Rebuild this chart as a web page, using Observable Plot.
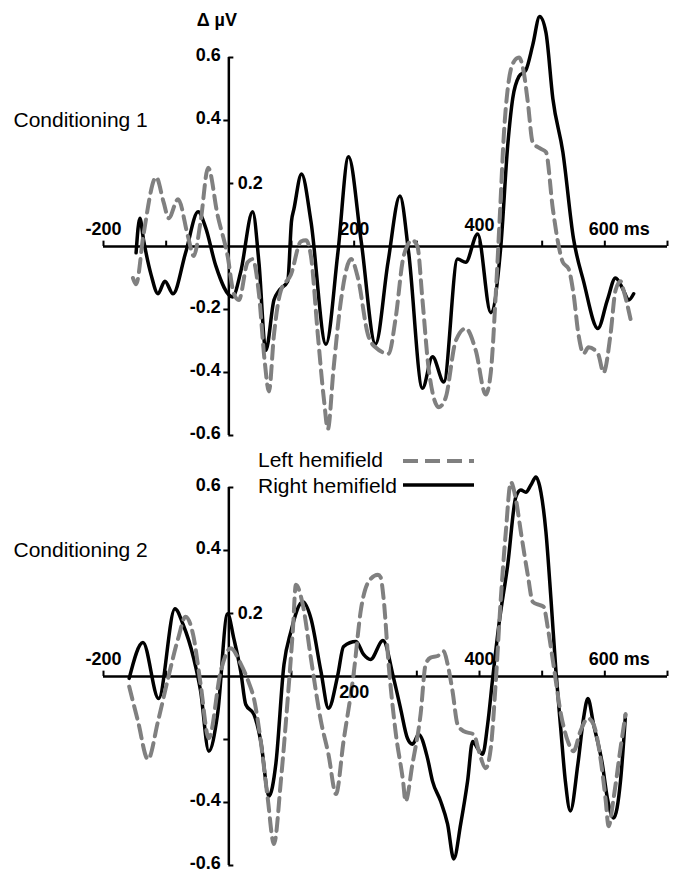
<!DOCTYPE html>
<html>
<head>
<meta charset="utf-8">
<script src="https://cdn.jsdelivr.net/npm/d3@7"></script>
<script src="https://cdn.jsdelivr.net/npm/@observablehq/plot@0.6"></script>
<style>
  html, body { margin: 0; padding: 0; background: #fff; }
  #wrap { position: relative; width: 673px; height: 872px; font-family: "Liberation Sans", Arial, sans-serif; }
  #wrap svg { display: block; }
  #legend { position: absolute; left: 0; top: 0; width: 673px; height: 872px; pointer-events: none; }
</style>
</head>
<body>
<div id="wrap"></div>
<script>
// ---------- DATA ----------
const unitLabel = "Δ µV";
const seriesNames = ["Left hemifield", "Right hemifield"];
const panelTitles = ["Conditioning 1", "Conditioning 2"];

// Conditioning 1 — Right hemifield (solid black)
const c1RightT = [-148,-142,-136,-124,-113,-102,-89,-69,-49,-37,-21,6,19,38,48,59,72,80,94,100,104,116,131,155,174,191,211,234,254,273,287,309,325,343,365,378,397,418,434,445,453,463,474,485,496,506,517,533,550,566,589,604,617,630,638,646];
const c1RightV = [-0.02,0.09,0.02,-0.09,-0.15,-0.11,-0.15,-0.02,0.11,0.06,-0.06,-0.16,-0.08,0.11,-0.05,-0.33,-0.17,-0.14,-0.11,0.08,0.12,0.23,0.08,-0.31,-0.02,0.285,0.02,-0.31,-0.05,0.16,-0.02,-0.45,-0.35,-0.43,-0.04,-0.05,0.04,-0.21,0.0,0.32,0.47,0.54,0.56,0.64,0.73,0.68,0.47,0.30,0.025,-0.11,-0.26,-0.17,-0.10,-0.14,-0.17,-0.15];

// Conditioning 1 — Left hemifield (dashed grey)
const c1LeftT = [-153,-148,-136,-116,-104,-96,-81,-65,-56,-45,-33,-18,-2,8,16,30,38,48,57,64,72,83,99,115,123,131,142,152,158,167,179,195,206,222,234,255,266,279,293,301,309,319,335,346,362,378,394,410,418,426,433,439,445,453,463,470,477,485,498,506,517,525,533,542,550,558,566,574,589,598,609,617,625,630,641];
const c1LeftV = [-0.10,-0.12,0.04,0.22,0.14,0.09,0.15,0.03,-0.03,0.08,0.25,0.10,-0.03,-0.15,-0.17,-0.05,-0.04,-0.15,-0.36,-0.46,-0.28,-0.14,-0.09,0.016,0.02,-0.03,-0.28,-0.49,-0.58,-0.39,-0.17,-0.04,-0.10,-0.28,-0.32,-0.34,-0.23,-0.03,0.02,0.0,-0.17,-0.39,-0.51,-0.48,-0.30,-0.26,-0.33,-0.47,-0.40,-0.15,0.12,0.36,0.50,0.58,0.60,0.56,0.46,0.33,0.31,0.30,0.12,0.016,-0.05,-0.07,-0.15,-0.28,-0.34,-0.32,-0.34,-0.40,-0.28,-0.14,-0.11,-0.14,-0.23];

// Conditioning 2 — Right hemifield (solid black)
const c2RightT = [-159,-137,-112,-86,-73,-56,-45,-32,-18,-2,8,19,27,40,51,64,75,88,99,118,131,147,159,174,183,203,215,226,246,263,274,285,293,303,317,325,338,349,359,370,381,389,397,405,413,421,431,445,458,466,474,482,490,498,506,514,522,530,537,545,557,566,573,582,596,604,614,625,633];
const c2RightV = [-0.006,0.108,-0.07,0.215,0.165,0.057,-0.047,-0.237,-0.12,0.199,0.12,0.016,-0.089,-0.12,-0.206,-0.38,-0.278,0.038,0.142,0.237,0.184,0.016,-0.101,0.006,0.095,0.111,0.07,0.054,0.114,-0.006,-0.101,-0.196,-0.215,-0.184,-0.259,-0.332,-0.396,-0.468,-0.579,-0.468,-0.332,-0.206,-0.228,-0.247,-0.152,-0.006,0.165,0.354,0.57,0.592,0.585,0.608,0.633,0.585,0.459,0.247,0.016,-0.174,-0.332,-0.427,-0.278,-0.133,-0.07,-0.152,-0.278,-0.386,-0.449,-0.332,-0.12];

// Conditioning 2 — Left hemifield (dashed grey)
const c2LeftT = [-159,-145,-129,-113,-97,-81,-69,-57,-45,-32,-13,3,19,32,40,51,62,72,83,94,102,107,118,131,147,159,171,183,199,211,223,238,242,247,255,266,278,282,293,306,314,322,333,343,349,357,365,375,391,399,410,418,426,434,442,450,458,466,477,485,494,502,510,518,530,541,550,561,573,582,593,601,606,614,625,633];
const c2LeftV = [-0.032,-0.142,-0.263,-0.142,-0.006,0.12,0.19,0.133,-0.025,-0.196,0.016,0.09,0.04,-0.02,-0.07,-0.206,-0.386,-0.532,-0.332,-0.07,0.142,0.291,0.228,0.057,-0.142,-0.247,-0.373,-0.206,0.006,0.215,0.301,0.323,0.316,0.247,0.038,-0.174,-0.332,-0.396,-0.278,-0.12,0.038,0.06,0.065,0.08,0.04,-0.047,-0.152,-0.174,-0.184,-0.237,-0.291,-0.228,-0.016,0.247,0.459,0.617,0.563,0.459,0.323,0.237,0.228,0.222,0.142,0.038,-0.12,-0.206,-0.237,-0.174,-0.133,-0.152,-0.259,-0.386,-0.475,-0.386,-0.228,-0.12];

// Axis ticks and labels
const xDomain = [-200, 700];
const yDomain = [-0.6, 0.6];
const xTickValues = [-200, -100, 100, 200, 300, 400, 500, 600, 700];
const yTicksLeftSide = [0.4, -0.2, -0.4];
const yTicksRightSide = [0.6, 0.2, -0.6];
const c1YLabelsLeft = [0.6, 0.4, -0.2, -0.4, -0.6];
const c2YLabelsLeft = [0.6, 0.4, -0.4, -0.6];
const yLabelsRight = [0.2];
const c1XLabelsAbove = [-200, 200];
const c1XLabelsAboveHigh = [400];
const c1XLabelsBelow = [];
const c2XLabelsAbove = [-200, 400];
const c2XLabelsAboveHigh = [];
const c2XLabelsBelow = [200];
const xUnitLabel = [600];
const xUnit = "ms";

// ---------- BUILD ----------
const toRows = (T, V) => T.map((t, i) => ({t, v: V[i]}));
const FONT = "Liberation Sans, Arial, Helvetica, sans-serif";
const GREY = "#808080";

function panel(o) {
  const tickStroke = 2;
  const lbl = {fontWeight: "bold", fontSize: 18, fill: "#000", fontFamily: FONT};
  return Plot.plot({
    width: 673,
    height: o.height,
    marginLeft: 103,
    marginRight: 6,
    marginTop: o.marginTop,
    marginBottom: o.marginBottom,
    x: {domain: xDomain, axis: null},
    y: {domain: yDomain, axis: null},
    style: {fontFamily: FONT, overflow: "visible", background: "transparent"},
    marks: [
      Plot.ruleY([0], {x1: xDomain[0], x2: xDomain[1], stroke: "#000", strokeWidth: 2.5}),
      Plot.ruleX([0], {y1: yDomain[0], y2: yDomain[1], stroke: "#000", strokeWidth: 2.5}),
      Plot.ruleX(xTickValues, {x: d => d, y1: 0, y2: 0.017, stroke: "#000", strokeWidth: tickStroke}),
      Plot.ruleY(yTicksLeftSide, {y: d => d, x1: -8, x2: 0, stroke: "#000", strokeWidth: tickStroke}),
      Plot.ruleY(yTicksRightSide, {y: d => d, x1: 0, x2: 8, stroke: "#000", strokeWidth: tickStroke}),
      Plot.line(o.right, {x: "t", y: "v", stroke: "#000", strokeWidth: 3.5, curve: "monotone-x", strokeLinejoin: "round"}),
      Plot.line(o.left, {x: "t", y: "v", stroke: GREY, strokeWidth: 4, strokeDasharray: "13,7", curve: "monotone-x"}),
      Plot.text(o.yLeft, {x: 0, y: d => d, text: d => String(d), textAnchor: "end", dx: -8, dy: -2, ...lbl}),
      Plot.text(yLabelsRight, {x: 0, y: d => d, text: d => String(d), textAnchor: "start", dx: 9, ...lbl}),
      Plot.text(o.xAbove, {x: d => d, y: 0, text: d => String(d), textAnchor: "middle", dy: -17, ...lbl}),
      Plot.text(o.xAboveHigh, {x: d => d, y: 0, text: d => String(d), textAnchor: "middle", dy: -21, ...lbl}),
      Plot.text(o.xBelow, {x: d => d, y: 0, text: d => String(d), textAnchor: "middle", dy: 16, ...lbl}),
      Plot.text(xUnitLabel, {x: d => d, y: 0, text: d => `${d} ${xUnit}`, textAnchor: "start", dx: -16, dy: -17, ...lbl}),
      Plot.text([o.title], {x: xDomain[0], y: 0.4, text: d => d, textAnchor: "start", dx: -90, fontSize: 21, fill: "#000", fontFamily: FONT}),
      ...(o.unit ? [Plot.text([unitLabel], {x: 0, y: yDomain[1], text: d => d, textAnchor: "middle", dx: -12, dy: -37, ...lbl, fontSize: 18})] : [])
    ]
  });
}

const wrap = document.getElementById("wrap");
wrap.append(panel({
  height: 440, marginTop: 57, marginBottom: 5,
  right: toRows(c1RightT, c1RightV), left: toRows(c1LeftT, c1LeftV),
  yLeft: c1YLabelsLeft, xAbove: c1XLabelsAbove, xAboveHigh: c1XLabelsAboveHigh, xBelow: c1XLabelsBelow,
  title: panelTitles[0], unit: true
}));
wrap.append(panel({
  height: 432, marginTop: 47, marginBottom: 7,
  right: toRows(c2RightT, c2RightV), left: toRows(c2LeftT, c2LeftV),
  yLeft: c2YLabelsLeft, xAbove: c2XLabelsAbove, xAboveHigh: c2XLabelsAboveHigh, xBelow: c2XLabelsBelow,
  title: panelTitles[1], unit: false
}));

// Legend (overlay between the panels)
const ns = "http://www.w3.org/2000/svg";
const lg = document.createElementNS(ns, "svg");
lg.setAttribute("id", "legend");
lg.setAttribute("width", 673);
lg.setAttribute("height", 872);
const items = [
  {name: seriesNames[0], stroke: GREY, width: 4, dash: "15,7", ty: 467, ly: 461},
  {name: seriesNames[1], stroke: "#000", width: 3.5, dash: null, ty: 493, ly: 485}
];
for (const it of items) {
  const t = document.createElementNS(ns, "text");
  t.setAttribute("x", 258); t.setAttribute("y", it.ty);
  t.setAttribute("font-family", FONT); t.setAttribute("font-size", 21);
  t.textContent = it.name;
  lg.appendChild(t);
  const l = document.createElementNS(ns, "line");
  l.setAttribute("x1", 403); l.setAttribute("x2", 474);
  l.setAttribute("y1", it.ly); l.setAttribute("y2", it.ly);
  l.setAttribute("stroke", it.stroke); l.setAttribute("stroke-width", it.width);
  if (it.dash) l.setAttribute("stroke-dasharray", it.dash);
  lg.appendChild(l);
}
wrap.appendChild(lg);
</script>
</body>
</html>
